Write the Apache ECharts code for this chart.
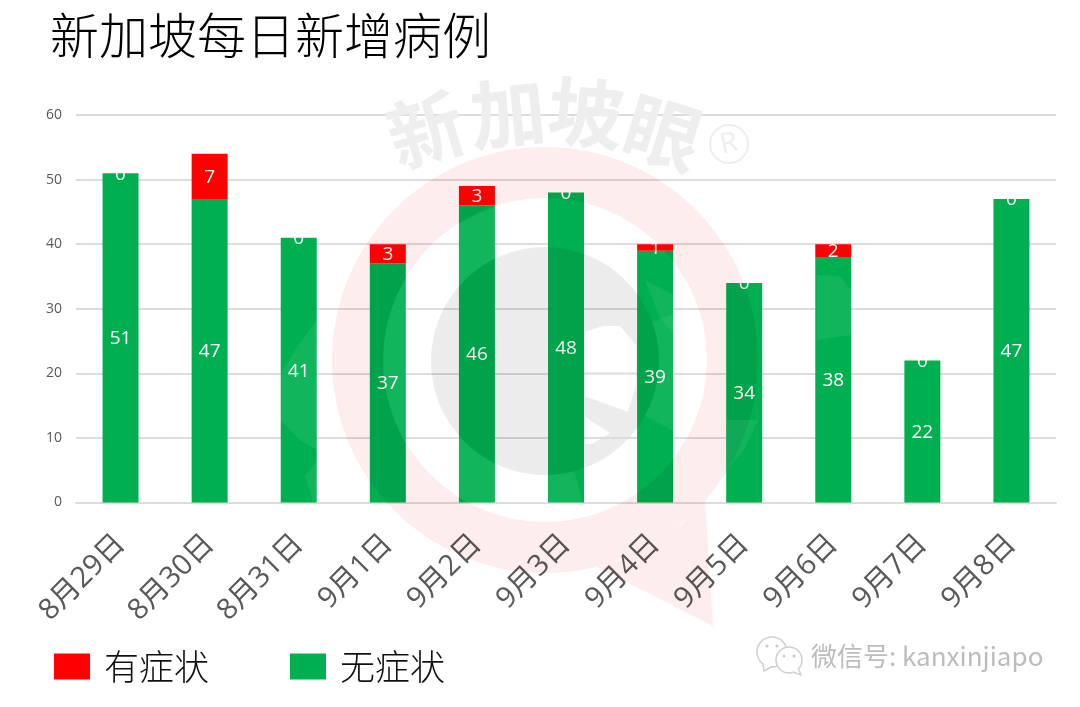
<!DOCTYPE html>
<html>
<head>
<meta charset="utf-8">
<style>html,body{margin:0;padding:0;background:#fff}#c{width:1080px;height:707px}</style>
<script src="https://cdn.jsdelivr.net/npm/echarts@6/dist/echarts.min.js"></script>
</head>
<body>
<div id="c"></div>
<script>
const categories = ['8月29日','8月30日','8月31日','9月1日','9月2日','9月3日','9月4日','9月5日','9月6日','9月7日','9月8日'];
const asymptomatic = [51,47,41,37,46,48,39,34,38,22,47];
const symptomatic = [0,7,0,3,3,0,1,0,2,0,0];
const yTicks = {min:0,max:60,interval:10};
const titleText = '新加坡每日新增病例';
const nameSym = '有症状', nameAsym = '无症状';
const cjk = '"Noto Sans CJK SC","Noto Sans",sans-serif';
const ui = '"Open Sans","Noto Sans CJK SC",sans-serif';

const chart = echarts.init(document.getElementById('c'), null, {renderer:'canvas'});
const lightFill = 'rgba(255,255,255,0.065)';
const wmChar = (t,x,y,rot) => ({type:'text',silent:true,z:50,x:x,y:y,rotation:rot,
  style:{text:t,x:0,y:0,fill:'#eeeeee',font:'bold 76px "Noto Sans CJK SC"',align:'center',verticalAlign:'middle',blend:'multiply'}});
const light = pts => ({type:'polygon',silent:true,z:53,shape:{points:pts},style:{fill:lightFill}});
const graphic = [
  {type:'ring',silent:true,z:50,shape:{cx:545,cy:360,r:213,r0:162},style:{fill:'#fdeded',blend:'multiply'}},
  {type:'polygon',silent:true,z:50,shape:{points:[[705,501],[713,626],[597,567],[618,561],[652,545],[682,524]]},style:{fill:'#fdeded',blend:'multiply'}},
  {type:'sector',silent:true,z:49,shape:{cx:545,cy:361,r:162,r0:114,startAngle:1.31,endAngle:4.54,clockwise:true},style:{fill:lightFill}},
  {type:'sector',silent:true,z:49,shape:{cx:545,cy:361,r:162,r0:114,startAngle:-0.35,endAngle:0.5,clockwise:true},style:{fill:lightFill}},
  {type:'circle',silent:true,z:50,shape:{cx:545,cy:361,r:114},style:{fill:'#ececec',blend:'multiply'}},
  {type:'polygon',silent:true,z:51,shape:{points:[[585,332],[603,326],[620,326],[636,345],[636,385],[628,412],[585,396]]},style:{fill:'#fff'}},
  {type:'polygon',silent:true,z:51,shape:{points:[[585,417],[610,433],[592,444],[585,444]]},style:{fill:'#fff'}},
  {type:'line',silent:true,z:52,shape:{x1:585,y1:373.5,x2:637,y2:373.5},style:{stroke:'#dcdcdc',lineWidth:2}},
  {type:'line',silent:true,z:52,shape:{x1:585,y1:438,x2:637,y2:438},style:{stroke:'#dcdcdc',lineWidth:2}},
  light([[317,320],[297,347],[281,373],[281,420],[300,440],[317,450]]),
  light([[317,460],[305,476],[313,502],[317,502]]),
  light([[817,275],[840,276],[851,290],[851,335],[817,340]]),
  light([[645,280],[674,295],[674,335],[660,318]]),
  light([[727,420],[758,420],[745,448],[727,470]]),
  wmChar('新',426,130,0.3), wmChar('加',508,113,0.1), wmChar('坡',586,113,-0.1), wmChar('眼',663,133,-0.3),
  {type:'circle',silent:true,z:50,shape:{cx:729,cy:144,r:19},style:{fill:'none',stroke:'#eeeeee',lineWidth:2,blend:'multiply'}},
  {type:'text',silent:true,z:50,x:729,y:144,rotation:0.2,style:{text:'R',x:0,y:0,fill:'#eeeeee',font:'28px "Noto Sans"',align:'center',verticalAlign:'middle',blend:'multiply'}},
  // WeChat mark
  {type:'circle',silent:true,z:60,shape:{cx:772,cy:652,r:15},style:{fill:'#fff',stroke:'#d0d0d0',lineWidth:1.5}},
  {type:'polyline',silent:true,z:60,shape:{points:[[763,664],[764,671],[773,666]]},style:{fill:'#fff',stroke:'#d0d0d0',lineWidth:1.5}},
  {type:'circle',silent:true,z:61,shape:{cx:789,cy:660,r:13},style:{fill:'#fff',stroke:'#d0d0d0',lineWidth:1.5}},
  {type:'polyline',silent:true,z:61,shape:{points:[[793,672],[801,675],[798,668]]},style:{fill:'#fff',stroke:'#d0d0d0',lineWidth:1.5}},
  {type:'circle',silent:true,z:62,shape:{cx:767,cy:646,r:1.5},style:{fill:'#c8c8c8'}},
  {type:'circle',silent:true,z:62,shape:{cx:777,cy:646,r:1.5},style:{fill:'#c8c8c8'}},
  {type:'circle',silent:true,z:62,shape:{cx:784,cy:656,r:1.5},style:{fill:'#c8c8c8'}},
  {type:'circle',silent:true,z:62,shape:{cx:794,cy:656,r:1.5},style:{fill:'#c8c8c8'}},
  {type:'text',silent:true,z:60,x:811,y:656,style:{text:'微信号: kanxinjiapo',x:0,y:0,fill:'#bcbcbc',font:'26px "Noto Sans CJK SC"',verticalAlign:'middle'}}
];
const label = {show:true,position:'inside',color:'#fff',fontSize:19,fontFamily:ui,offset:[0,1]};
chart.setOption({
  animation:false,
  backgroundColor:'#fff',
  title:{text:titleText,left:45,top:6,textStyle:{fontFamily:cjk,fontSize:49,fontWeight:300,color:'#000'}},
  legend:{data:[nameSym,nameAsym],left:49,top:644,itemWidth:36,itemHeight:26,itemGap:81,icon:'rect',
    textStyle:{fontFamily:cjk,fontSize:35,fontWeight:300,color:'#111',padding:[0,0,0,9]},selectedMode:false},
  grid:{left:76,right:24,top:115,bottom:204.5,containLabel:false},
  xAxis:{type:'category',data:categories,
    axisTick:{show:false},axisLine:{lineStyle:{color:'#dcdcdc',width:2}},
    axisLabel:{rotate:45,interval:0,margin:37,fontSize:29,color:'#595959',fontFamily:ui}},
  yAxis:{type:'value',min:yTicks.min,max:yTicks.max,interval:yTicks.interval,
    axisLine:{show:false},axisTick:{show:false},
    splitLine:{lineStyle:{color:'#dcdcdc',width:2}},
    axisLabel:{margin:14,fontSize:14,color:'#595959',fontFamily:ui}},
  series:[
    {name:nameAsym,type:'bar',stack:'a',data:asymptomatic,barWidth:36,itemStyle:{color:'#00b050'},label:label},
    {name:nameSym,type:'bar',stack:'a',data:symptomatic,barWidth:36,itemStyle:{color:'#ff0000'},label:Object.assign({},label)}
  ],
  graphic:graphic
});
</script>
</body>
</html>
